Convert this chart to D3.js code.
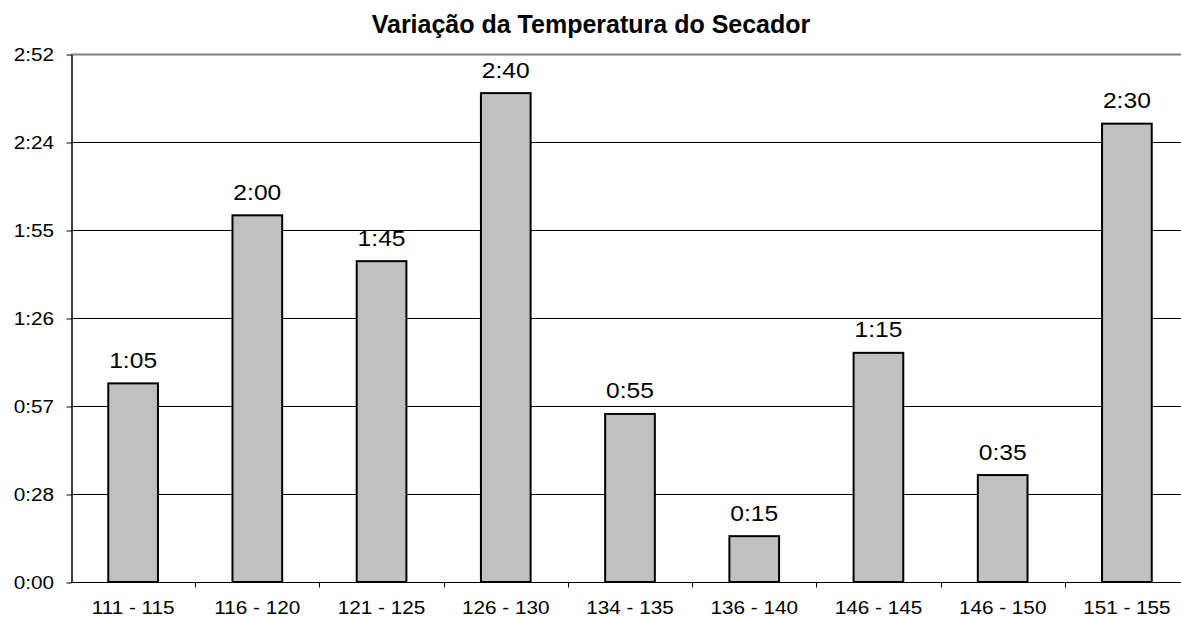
<!DOCTYPE html>
<html>
<head>
<meta charset="utf-8">
<script src="https://cdn.jsdelivr.net/npm/d3@7"></script>
<style>
  body { margin: 0; background: #fff; }
  svg { display: block; font-family: "Liberation Sans", Arial, sans-serif; }
</style>
</head>
<body>
<div id="place"></div>
<script>
// faixas de temperatura e tempo (em minutos)
const categorias = ["111 - 115", "116 - 120", "121 - 125", "126 - 130", "134 - 135", "136 - 140", "146 - 145", "146 - 150", "151 - 155"];
const minutos = [65, 120, 105, 160, 55, 15, 75, 35, 150];
const ticksY = [0, 28.8, 57.6, 86.4, 115.2, 144, 172.8];
const titulo = "Variação da Temperatura do Secador";

const width = 1181, height = 618;
const margin = { top: 54, right: -8, bottom: 36, left: 71 };
const esticar = 1.12; // o texto do original e um pouco esticado na horizontal

let svg = d3.select("#place").append("svg")
    .attr("width", width)
    .attr("height", height);

let x = d3.scaleBand()
    .domain(categorias)
    .range([margin.left, width - margin.right])
    .paddingInner(0.6)
    .paddingOuter(0.3);

let y = d3.scaleLinear()
    .domain([0, 172.8])
    .range([height - margin.bottom, margin.top]);

function fmt(m) {
    let t = Math.floor(m + 1e-6);
    let h = Math.floor(t / 60), mm = t % 60;
    return h + ":" + String(mm).padStart(2, "0");
}

// linhas de grade
svg.append("g")
    .selectAll("line")
    .data(ticksY.slice(1))
    .join("line")
    .attr("x1", margin.left)
    .attr("x2", width)
    .attr("y1", d => Math.round(y(d)) + 0.5)
    .attr("y2", d => Math.round(y(d)) + 0.5)
    .attr("stroke", (d, i) => i == ticksY.length - 2 ? "#808080" : "#000")
    .attr("stroke-width", (d, i) => i == ticksY.length - 2 ? 2 : 1);

// eixo y
let eixoY = svg.append("g")
    .attr("transform", "translate(" + (margin.left + 0.5) + ",0.5)")
    .call(d3.axisLeft(y).tickValues(ticksY).tickFormat("").tickSize(5).tickSizeOuter(0));
eixoY.select(".domain").attr("stroke", "#000").attr("stroke-width", 1.5);
eixoY.selectAll(".tick line").attr("stroke", "#000");

svg.append("g")
    .selectAll("text")
    .data(ticksY)
    .join("text")
    .attr("transform", d => "translate(54," + (y(d) + 7) + ") scale(" + esticar + ",1)")
    .attr("text-anchor", "end")
    .attr("font-size", 18.5)
    .text(d => fmt(d));

// barras
svg.append("g")
    .selectAll("rect")
    .data(minutos)
    .join("rect")
    .attr("x", (d, i) => x(categorias[i]))
    .attr("y", d => y(d))
    .attr("width", x.bandwidth())
    .attr("height", d => y(0) - y(d))
    .attr("fill", "#c0c0c0")
    .attr("stroke", "#000")
    .attr("stroke-width", 2);

// rotulos de dados
svg.append("g")
    .selectAll("text")
    .data(minutos)
    .join("text")
    .attr("transform", (d, i) => "translate(" + (x(categorias[i]) + x.bandwidth() / 2) + "," + (y(d) - 15.5) + ") scale(" + esticar + ",1)")
    .attr("text-anchor", "middle")
    .attr("font-size", 22)
    .text(d => fmt(d));

// eixo x
let step = x.step();
let eixoX = svg.append("g")
    .attr("transform", "translate(0," + (y(0) + 0.5) + ")");
eixoX.append("line")
    .attr("x1", margin.left).attr("x2", width)
    .attr("stroke", "#000");
eixoX.selectAll(".sep")
    .data(categorias.slice(1))
    .join("line")
    .attr("class", "sep")
    .attr("x1", (d, i) => Math.round(margin.left + (i + 1) * step) + 0.5)
    .attr("x2", (d, i) => Math.round(margin.left + (i + 1) * step) + 0.5)
    .attr("y1", 0).attr("y2", 5)
    .attr("stroke", "#000");
eixoX.selectAll("text")
    .data(categorias)
    .join("text")
    .attr("transform", d => "translate(" + (x(d) + x.bandwidth() / 2) + ",31) scale(" + esticar + ",1)")
    .attr("text-anchor", "middle")
    .attr("font-size", 18.5)
    .text(d => d);

// titulo
svg.append("text")
    .attr("x", 591)
    .attr("y", 33)
    .attr("text-anchor", "middle")
    .attr("font-size", 25)
    .attr("font-weight", "bold")
    .text(titulo);
</script>
</body>
</html>
